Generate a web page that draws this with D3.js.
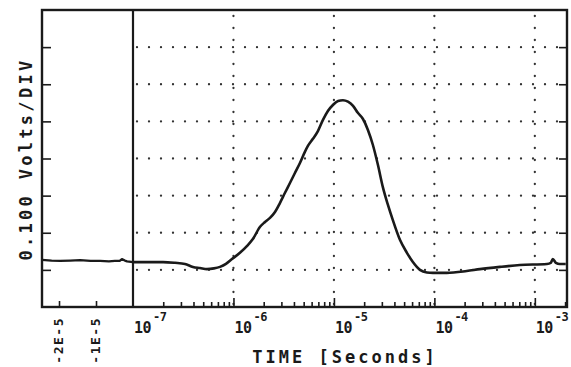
<!doctype html>
<html lang="en">
<head>
<meta charset="utf-8">
<style>
  body { margin: 0; background: #fff; }
  svg { display: block; }
  .lbl { font-family: "DejaVu Sans Mono", monospace; fill: #1a1a1a; font-weight: bold; }
  .axis line { stroke: #1a1a1a; stroke-width: 1.6px; }
  .axis path { display: none; }
</style>
<script src="https://d3js.org/d3.v7.min.js"></script>
</head>
<body>
<svg width="571" height="367"></svg>
<script>
// pre-trigger part (linear time axis, seconds)
const preTimes = [-2.46e-5, -2.2e-5, -1.97e-5, -1.7e-5, -1.43e-5, -1.15e-5, -0.89e-5, -0.65e-5, -0.49e-5, -0.36e-5, -0.30e-5, -0.22e-5, -0.16e-5, 0];
const preVolts = [0.127, 0.125, 0.124, 0.125, 0.126, 0.124, 0.124, 0.123, 0.124, 0.124, 0.129, 0.125, 0.123, 0.121];

// post-trigger part (log time axis, seconds)
const postTimes = [1e-7, 1.48e-7, 1.99e-7, 2.62e-7, 3.29e-7, 3.95e-7, 4.64e-7, 5.45e-7, 6.4e-7, 7.34e-7, 8.42e-7, 9.66e-7,
  1.16e-6, 1.36e-6, 1.56e-6, 1.84e-6, 2.06e-6, 2.31e-6, 2.59e-6, 2.9e-6, 3.25e-6, 3.65e-6, 4.09e-6, 4.59e-6, 5.14e-6, 5.51e-6,
  6.18e-6, 6.93e-6, 7.78e-6, 8.71e-6, 9.77e-6, 1.1e-5, 1.23e-5, 1.38e-5, 1.55e-5, 1.73e-5, 1.94e-5, 2.18e-5, 2.44e-5, 2.74e-5,
  3.07e-5, 3.45e-5, 3.86e-5, 4.54e-5, 5.33e-5, 6.11e-5, 7.18e-5, 8.42e-5, 9.66e-5, 1.33e-4, 2.1e-4, 2.84e-4, 4.49e-4, 7.1e-4,
  1.32e-3, 1.44e-3, 1.51e-3, 1.62e-3, 1.77e-3, 2.03e-3];
const postVolts = [0.121, 0.121, 0.121, 0.119, 0.116, 0.108, 0.105, 0.102, 0.104, 0.108, 0.116, 0.129,
  0.146, 0.164, 0.183, 0.216, 0.229, 0.240, 0.256, 0.280, 0.307, 0.334, 0.361, 0.388, 0.418, 0.434,
  0.453, 0.474, 0.504, 0.528, 0.544, 0.555, 0.557, 0.553, 0.542, 0.523, 0.507, 0.477, 0.437, 0.383,
  0.323, 0.275, 0.234, 0.181, 0.146, 0.121, 0.100, 0.093, 0.092, 0.092, 0.097, 0.102, 0.108, 0.113,
  0.116, 0.119, 0.129, 0.119, 0.116, 0.116];

const decades = [1e-7, 1e-6, 1e-5, 1e-4, 1e-3];
const decadeExps = ["-7", "-6", "-5", "-4", "-3"];
const linTicks = [-2e-5, -1e-5];
const linTickLabels = ["-2E-5", "-1E-5"];
const voltTicks = [0.1, 0.2, 0.3, 0.4, 0.5, 0.6, 0.7];

const pLeft = 42, pSplit = 133, pRight = 567, pTop = 10, pBottom = 307;
const ink = "#1a1a1a";

const svg = d3.select("svg");

const y = d3.scaleLinear().domain([0, 0.8]).range([pBottom, pTop]);
const xLin = d3.scaleLinear().domain([-2.46e-5, 0]).range([pLeft, pSplit]);
const xLog = d3.scaleLog().domain([1e-7, 2.09e-3]).range([pSplit, pRight]);

// dotted grid
svg.append("g").selectAll("line")
  .data(voltTicks)
  .enter().append("line")
  .attr("x1", pSplit + 4).attr("x2", pRight)
  .attr("y1", d => y(d)).attr("y2", d => y(d))
  .attr("stroke", "#333").attr("stroke-width", 2.3)
  .attr("stroke-linecap", "round")
  .attr("stroke-dasharray", "0,12");

svg.append("g").selectAll("line")
  .data(decades.slice(1))
  .enter().append("line")
  .attr("x1", d => xLog(d)).attr("x2", d => xLog(d))
  .attr("y1", pTop + 6).attr("y2", pBottom)
  .attr("stroke", "#333").attr("stroke-width", 2.3)
  .attr("stroke-linecap", "round")
  .attr("stroke-dasharray", "0,12");

// ticks
const minor = xLog.ticks().filter(t => !decades.some(d => Math.abs(d - t) / d < 1e-6));
svg.append("g").attr("class", "axis")
  .attr("transform", `translate(0,${pBottom})`)
  .call(d3.axisTop(xLog).tickValues(minor).tickSize(5).tickFormat(""));
svg.append("g").attr("class", "axis")
  .attr("transform", `translate(0,${pBottom})`)
  .call(d3.axisTop(xLog).tickValues(decades.slice(1)).tickSize(9).tickFormat(""));
svg.append("g").attr("class", "axis")
  .attr("transform", `translate(0,${pBottom})`)
  .call(d3.axisTop(xLin).tickValues(linTicks).tickSize(6).tickFormat(""));
svg.append("g").attr("class", "axis")
  .attr("transform", `translate(${pLeft},0)`)
  .call(d3.axisRight(y).tickValues(voltTicks).tickSize(9).tickFormat(""));
svg.append("g").attr("class", "axis")
  .attr("transform", `translate(${pRight},0)`)
  .call(d3.axisLeft(y).tickValues(voltTicks).tickSize(8).tickFormat(""));

// frame and split line
svg.append("rect")
  .attr("x", pLeft).attr("y", pTop)
  .attr("width", pRight - pLeft).attr("height", pBottom - pTop)
  .attr("fill", "none").attr("stroke", ink).attr("stroke-width", 2.4);
svg.append("line")
  .attr("x1", pSplit).attr("x2", pSplit).attr("y1", pTop).attr("y2", pBottom)
  .attr("stroke", ink).attr("stroke-width", 2.2);

// signal
const linePre = d3.line().x((d, i) => xLin(preTimes[i])).y(d => y(d));
const linePost = d3.line().x((d, i) => xLog(postTimes[i])).y(d => y(d)).curve(d3.curveMonotoneX);
svg.append("path").datum(preVolts)
  .attr("d", linePre).attr("fill", "none")
  .attr("stroke", ink).attr("stroke-width", 2.3).attr("stroke-linejoin", "round");
svg.append("path").datum(postVolts)
  .attr("d", linePost).attr("fill", "none")
  .attr("stroke", ink).attr("stroke-width", 2.6).attr("stroke-linejoin", "round");

// tick labels
const dec = svg.append("g").selectAll("g")
  .data(decades)
  .enter().append("g")
  .attr("transform", d => `translate(${xLog(d) + 1},333)`);
dec.append("text").attr("class", "lbl")
  .attr("font-size", 15).attr("letter-spacing", -0.5)
  .text("10");
dec.append("text").attr("class", "lbl")
  .attr("x", 19).attr("y", -12)
  .attr("font-size", 12).attr("letter-spacing", -0.5)
  .text((d, i) => decadeExps[i]);

svg.append("g").selectAll("text")
  .data(linTicks)
  .enter().append("text").attr("class", "lbl")
  .attr("transform", d => `translate(${xLin(d) + 4},317) rotate(-90)`)
  .attr("text-anchor", "end")
  .attr("font-size", 13).attr("letter-spacing", 1.5)
  .text((d, i) => linTickLabels[i]);

// axis titles
svg.append("text").attr("class", "lbl")
  .attr("x", 345).attr("y", 363)
  .attr("text-anchor", "middle")
  .attr("font-size", 17).attr("letter-spacing", 3)
  .text("TIME [Seconds]");

svg.append("text").attr("class", "lbl")
  .attr("transform", "translate(32,159) rotate(-90)")
  .attr("text-anchor", "middle")
  .attr("font-size", 17).attr("letter-spacing", 3.3)
  .text("0.100 Volts/DIV");
</script>
</body>
</html>
